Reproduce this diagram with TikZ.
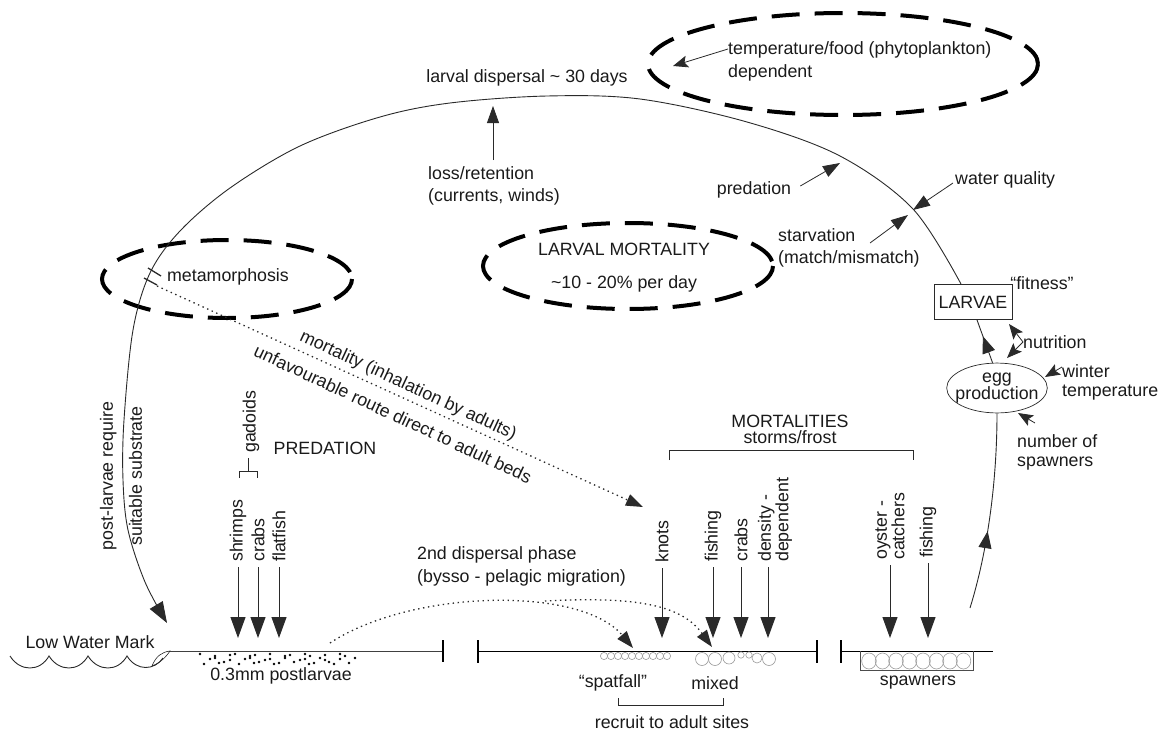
\documentclass[tikz,border=0pt]{standalone}
\usepackage{fontspec}
\setmainfont{Liberation Sans}
\usetikzlibrary{arrows.meta,decorations.markings,shapes.geometric}
\definecolor{txt}{HTML}{1A1A1A}
\definecolor{ln}{HTML}{2A2A2A}
\definecolor{shellc}{HTML}{9A9A9A}
\begin{document}
\begin{tikzpicture}[x=1pt,y=-1pt,
  every node/.style={font=\fontsize{17.8}{21}\selectfont, text=txt, inner sep=0pt},
  bigtip/.style={draw=ln, line width=1pt, -{Triangle[length=21pt,width=15pt]}},
  medtip/.style={draw=ln, line width=0.8pt, -{Triangle[length=17pt,width=12pt]}},
  smtip/.style={draw=ln, line width=0.8pt, -{Stealth[length=15pt,width=12pt,inset=3pt]}},
  dell/.style={draw=black, line width=4pt, dash pattern=on 28pt off 15pt},
  cyc/.style={draw=ln, line width=0.9pt},
  dotln/.style={line width=1.3pt, dash pattern=on 1.4pt off 3.6pt},
  tickln/.style={draw=black, line width=2pt},
  bedln/.style={draw=black, line width=1pt},
  shell/.style={draw=shellc, line width=0.6pt},
  midarr/.style={postaction={decorate}, decoration={markings, mark=at position #1 with {\arrow{Triangle[length=17pt,width=13pt]}}}}
]
\useasboundingbox (0,0) rectangle (1163,731);

% dashed ellipses
\draw[dell] (843,64) ellipse [x radius=195, y radius=51];
\draw[dell] (628,266) ellipse [x radius=145, y radius=43];
\draw[dell] (227,279) ellipse [x radius=125, y radius=39];

% top texts
\node[anchor=west, align=left, font=\fontsize{17.8}{23}\selectfont] (temp) at (728,61) {temperature/food (phytoplankton)\\dependent};
\coordinate (tempT) at (673,66);
\draw[smtip] ([yshift=12pt]temp.west) -- (tempT);

\node (disp) at (527,78) {larval dispersal \textasciitilde{} 30 days};

\node[anchor=west, align=left, font=\fontsize{17.8}{22}\selectfont] (loss) at (428,186) {loss/retention\\(currents, winds)};
\coordinate (lossA) at (493,160);
\coordinate (lossB) at (493,106);
\draw[medtip] (lossA) -- (lossB);

\node (pred) at (754,190) {predation};
\coordinate (predT) at (840,163);
\draw[medtip] ([xshift=9pt,yshift=4pt]pred.east) -- (predT);

\node[anchor=west] (wq) at (955,180) {water quality};
\coordinate (wqT) at (913,210);
\draw[medtip] ([xshift=-2pt,yshift=-3pt]wq.west) -- (wqT);

\node[anchor=west, align=left, font=\fontsize{17.8}{22}\selectfont] (starv) at (778,248) {starvation\\(match/mismatch)};
\coordinate (stA) at (870,243);
\coordinate (stT) at (908,215);
\draw[medtip] (stA) -- (stT);

\node[align=center, font=\fontsize{17.8}{33}\selectfont] (lm) at (624,268) {LARVAL MORTALITY\\\textasciitilde10 - 20\% per day};

\node (meta) at (228,277) {metamorphosis};

% larvae / egg production
\node[draw=ln, line width=0.9pt, minimum width=78pt, minimum height=35pt] (larvae) at (973,302) {LARVAE};
\node (fit) at (1042,283) {“fitness”};
\node[ellipse, draw=ln, line width=0.7pt, align=center, font=\fontsize{17.8}{17}\selectfont, inner xsep=-6pt, inner ysep=2.5pt] (egg) at (997,388) {egg\\production};

\draw[cyc, midarr=0.62] (egg.100) -- ([xshift=4pt]larvae.south);

\node[anchor=west] (nutr) at (1023,342) {nutrition};
\coordinate (nutT1) at (1009,324);
\coordinate (nutT2) at (1007,358);
\draw[smtip] (nutr.west) -- (nutT1);
\draw[smtip] (nutr.west) -- (nutT2);

\node[anchor=west, align=left, font=\fontsize{17.8}{19}\selectfont] (wint) at (1062,382) {winter\\temperature};
\coordinate (winT) at (1045,377);
\draw[smtip] ([yshift=15pt]wint.west) -- (winT);

\node[anchor=west, align=left, font=\fontsize{17.8}{19}\selectfont] (nsp) at (1017,452) {number of\\spawners};
\coordinate (nspT) at (1018,413);
\draw[smtip] ([xshift=18pt,yshift=11pt]nsp.north west) -- (nspT);

\coordinate (spw) at (970,608);
\draw[cyc, midarr=0.4] (spw) .. controls (988,550) and (997,480) .. (egg.south);

% main life-cycle arc
\coordinate (arcS) at ([xshift=-12pt]larvae.north);
\coordinate (lwm) at (167,623);
\draw[cyc, -{Triangle[length=21pt,width=15pt]}] plot[smooth, tension=0.55] coordinates {(arcS) (913,209) (840,156) (747,122) (640,99) (547,96) (450,103) (380,117) (300,146) (230,188) (180,231) (150,273) (133,330) (124,420) (123,480) (128,530) (145,582) (lwm)};

% metamorphosis break ticks
\draw[draw=ln, line width=1.3pt] (148,268) -- (161,276);
\draw[draw=ln, line width=1.3pt] (144,278) -- (157,285);

% route to adult beds
\coordinate (rtS) at (157,286);
\coordinate (rtT) at (643,507);
\draw[medtip, dotln] (rtS) -- (rtT);
\node[rotate=-25] (mort) at (408,386) {mortality (inhalation by adults)};
\node[rotate=-25] (unf) at (393,414) {unfavourable route direct to adult beds};

\node[rotate=90, align=center, font=\fontsize{17.8}{29}\selectfont] (plr) at (121,476) {post-larvae require\\suitable substrate};

% predation on postlarvae
\node (predU) at (325,448) {PREDATION};
\node[rotate=90, anchor=west] (gad) at (251,453) {gadoids};
\draw[draw=ln, line width=0.9pt] (248,458) -- (248,471);
\draw[draw=ln, line width=0.9pt] (239,478) -- (239,471) -- (257,471) -- (257,478);

\coordinate (bedY) at (0,638);
\node[rotate=90, anchor=west] (shr) at (238,562) {shrimps};
\node[rotate=90, anchor=west] (crb) at (258,562) {crabs};
\node[rotate=90, anchor=west] (flt) at (279,562) {flatfish};
\draw[bigtip] ([yshift=-5pt]shr.west) -- (shr.west |- bedY);
\draw[bigtip] ([yshift=-5pt]crb.west) -- (crb.west |- bedY);
\draw[bigtip] ([yshift=-5pt]flt.west) -- (flt.west |- bedY);

% mortalities on adult sites
\node[align=center, font=\fontsize{17.8}{16}\selectfont] (mortl) at (790,429) {MORTALITIES\\storms/frost};
\draw[draw=ln, line width=0.9pt] (669,460) -- (669,450) -- (913,450) -- (913,460);

\node[rotate=90, anchor=west] (knt) at (662,563) {knots};
\node[rotate=90, anchor=west] (fsh1) at (713,562) {fishing};
\node[rotate=90, anchor=west] (crb2) at (741,562) {crabs};
\node[rotate=90, anchor=west, align=left, font=\fontsize{17.8}{16}\selectfont] (dens) at (775,562) {density -\\dependent};
\draw[bigtip] ([yshift=-5pt]knt.west) -- (knt.west |- bedY);
\draw[bigtip] ([yshift=-5pt]fsh1.west) -- (fsh1.west |- bedY);
\draw[bigtip] ([yshift=-5pt]crb2.west) -- (crb2.west |- bedY);
\draw[bigtip] ([xshift=-7pt,yshift=-5pt]dens.west) -- ([xshift=-7pt]dens.west |- bedY);

\node[rotate=90, anchor=west, align=left, font=\fontsize{17.8}{16}\selectfont] (oyst) at (890,560) {oyster -\\catchers};
\node[rotate=90, anchor=west] (fsh2) at (928,558) {fishing};
\draw[bigtip] ([yshift=-5pt]oyst.west) -- (oyst.west |- bedY);
\draw[bigtip] ([yshift=-5pt]fsh2.west) -- (fsh2.west |- bedY);

% second dispersal
\node[anchor=west, align=left, font=\fontsize{17.8}{23}\selectfont] (sec) at (417,566) {2nd dispersal phase\\(bysso - pelagic migration)};
\coordinate (dA0) at (330,643);
\coordinate (dA1) at (633,648);
\coordinate (dB0) at (545,601);
\coordinate (dB1) at (712,647);
\draw[medtip, dotln] (dA0) .. controls (410,590) and (580,585) .. (dA1);
\draw[medtip, dotln] (dB0) .. controls (640,596) and (682,606) .. (dB1);

% shore and beds
\draw[draw=ln, line width=0.9pt] (10,656) .. controls (20,672) and (40,672) .. (49,656) .. controls (59,672) and (79,672) .. (88,656) .. controls (98,672) and (118,672) .. (127,656) .. controls (137,672) and (155,670) .. (163,658);
\draw[draw=ln, line width=0.6pt] (152,666) .. controls (156,656) and (162,652) .. (170,651) .. controls (166,657) and (160,663) .. (152,666);
\draw[draw=black!75, line width=0.9pt] (170,651) -- (443,651);
\draw[tickln] (443,640) -- (443,662);
\foreach \row/\yy/\off in {0/655/0, 1/659/4, 2/663/2} {
  \foreach \k in {0,...,13} {\fill[black] ({200+\off+11*\k+2*mod(\k*7+\row*3,5)},{\yy+mod(\k*5+\row,3)-1}) circle (1.3pt);}
}

\draw[bedln] (478,651) -- (817,651);
\draw[tickln] (478,640) -- (478,663);
\draw[tickln] (817,640) -- (817,663);
\draw[tickln] (841,640) -- (841,663);
\draw[bedln] (841,651) -- (993,651);

\foreach \i in {0,...,9} {\draw[shell] ({604+7*\i},656) ellipse [x radius=3.6, y radius=3.6];}
\foreach \cx/\cy/\r in {702/659/6.5, 715/659/6.5, 729/658/6, 741/655/3.2, 749/655/3.2, 757/658/5, 769/659/6.5} {\draw[shell] (\cx,\cy) circle [radius=\r];}

\draw[draw=black!70, line width=0.8pt] (860,651) -- (860,670) -- (973,670) -- (973,651);
\foreach \i in {0,...,7} {\draw[shell] ({869+13.5*\i},661) ellipse [x radius=7.3, y radius=8];}

% bottom labels
\node (lwmt) at (90,642) {Low Water Mark};
\node (pl) at (281,676) {0.3mm postlarvae};
\node (spf) at (613,683) {“spatfall”};
\node (mix) at (715,683) {mixed};
\draw[draw=ln, line width=0.9pt] (618,698) -- (618,705) -- (723,705) -- (723,698);
\node (rec) at (672,722) {recruit to adult sites};
\node (spwn) at (918,683) {spawners};
\end{tikzpicture}
\end{document}
